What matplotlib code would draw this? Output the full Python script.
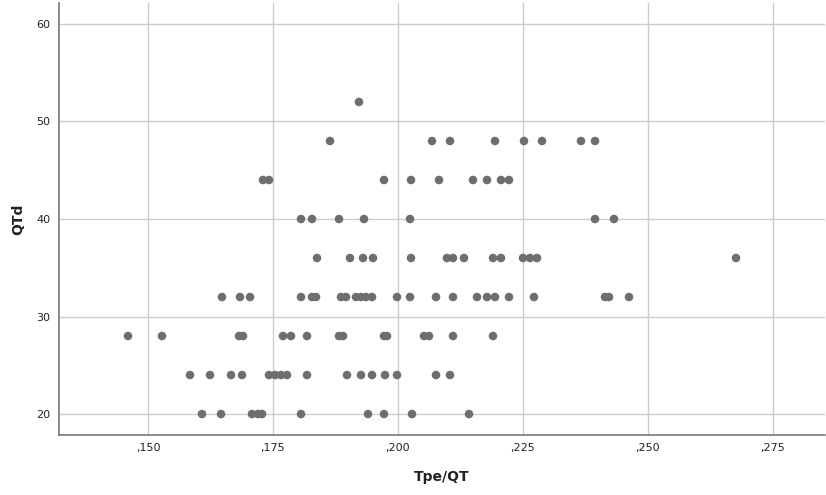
import matplotlib

matplotlib.use("Agg")
import matplotlib.pyplot as plt
from matplotlib.ticker import FuncFormatter

# ── Data: Tpe/QT values grouped by QTd level ─────────────────────────────────
tpe_qt_52 = [0.1922]
tpe_qt_48 = [0.1864, 0.2068, 0.2104, 0.2194, 0.2252, 0.2288, 0.2366, 0.2394]
tpe_qt_44 = [0.1730, 0.1742, 0.1972, 0.2026, 0.2082, 0.2150, 0.2178, 0.2206,
             0.2222]
tpe_qt_40 = [0.1806, 0.1828, 0.1882, 0.1932, 0.2024, 0.2394, 0.2432]
tpe_qt_36 = [0.1838, 0.1904, 0.1930, 0.1950, 0.2026, 0.2098, 0.2110, 0.2132,
             0.2190, 0.2206, 0.2250, 0.2264, 0.2278, 0.2676]
tpe_qt_32 = [0.1648, 0.1684, 0.1704, 0.1806, 0.1828, 0.1836, 0.1886, 0.1896,
             0.1916, 0.1926, 0.1936, 0.1948, 0.1998, 0.2024, 0.2076, 0.2110,
             0.2158, 0.2178, 0.2194, 0.2222, 0.2272, 0.2414, 0.2422, 0.2462]
tpe_qt_28 = [0.1460, 0.1528, 0.1682, 0.1690, 0.1770, 0.1786, 0.1818, 0.1882,
             0.1890, 0.1972, 0.1978, 0.2052, 0.2062, 0.2110, 0.2190]
tpe_qt_24 = [0.1584, 0.1624, 0.1666, 0.1688, 0.1742, 0.1754, 0.1766, 0.1778,
             0.1818, 0.1898, 0.1926, 0.1948, 0.1974, 0.1998, 0.2076, 0.2104]
tpe_qt_20 = [0.1608, 0.1646, 0.1708, 0.1720, 0.1728, 0.1806, 0.1940, 0.1972,
             0.2028, 0.2142]

qtd_levels = [52, 48, 44, 40, 36, 32, 28, 24, 20]
tpe_groups = [tpe_qt_52, tpe_qt_48, tpe_qt_44, tpe_qt_40, tpe_qt_36,
              tpe_qt_32, tpe_qt_28, tpe_qt_24, tpe_qt_20]

x_ticks = [0.150, 0.175, 0.200, 0.225, 0.250, 0.275]
y_ticks = [20, 30, 40, 50, 60]

xs, ys = [], []
for level, group in zip(qtd_levels, tpe_groups):
    xs.extend(group)
    ys.extend([level] * len(group))

# ── Figure ────────────────────────────────────────────────────────────────────
plt.rcParams.update({"font.family": "DejaVu Sans"})
fig = plt.figure(figsize=(8.26, 4.95), dpi=100)
fig.patch.set_facecolor("white")
ax = fig.add_axes([59 / 826, 1 - 435 / 495, 766 / 826, 432 / 495])

ax.scatter(xs, ys, s=38, color="#6e6e6e", edgecolors="none", zorder=3)

ax.set_xlim(0.1322, 0.2854)
ax.set_ylim(17.85, 62.15)
ax.set_xticks(x_ticks)
ax.set_yticks(y_ticks)
ax.xaxis.set_major_formatter(FuncFormatter(lambda v, _: f"{v:.3f}".lstrip("0").replace(".", ",")))
ax.grid(True, color="#cccccc", linewidth=1.0, zorder=0)
ax.set_axisbelow(True)

for side in ("top", "right"):
    ax.spines[side].set_visible(False)
for side in ("left", "bottom"):
    ax.spines[side].set_color("#777777")
    ax.spines[side].set_linewidth(1.2)

ax.tick_params(axis="both", length=0, labelsize=8, colors="#222222", pad=6)
ax.set_xlabel("Tpe/QT", fontsize=10, fontweight="bold", color="#222222", labelpad=12)
ax.set_ylabel("QTd", fontsize=10, fontweight="bold", color="#222222", labelpad=8)

fig.savefig("out.png", dpi=100, facecolor="white")
plt.close(fig)
